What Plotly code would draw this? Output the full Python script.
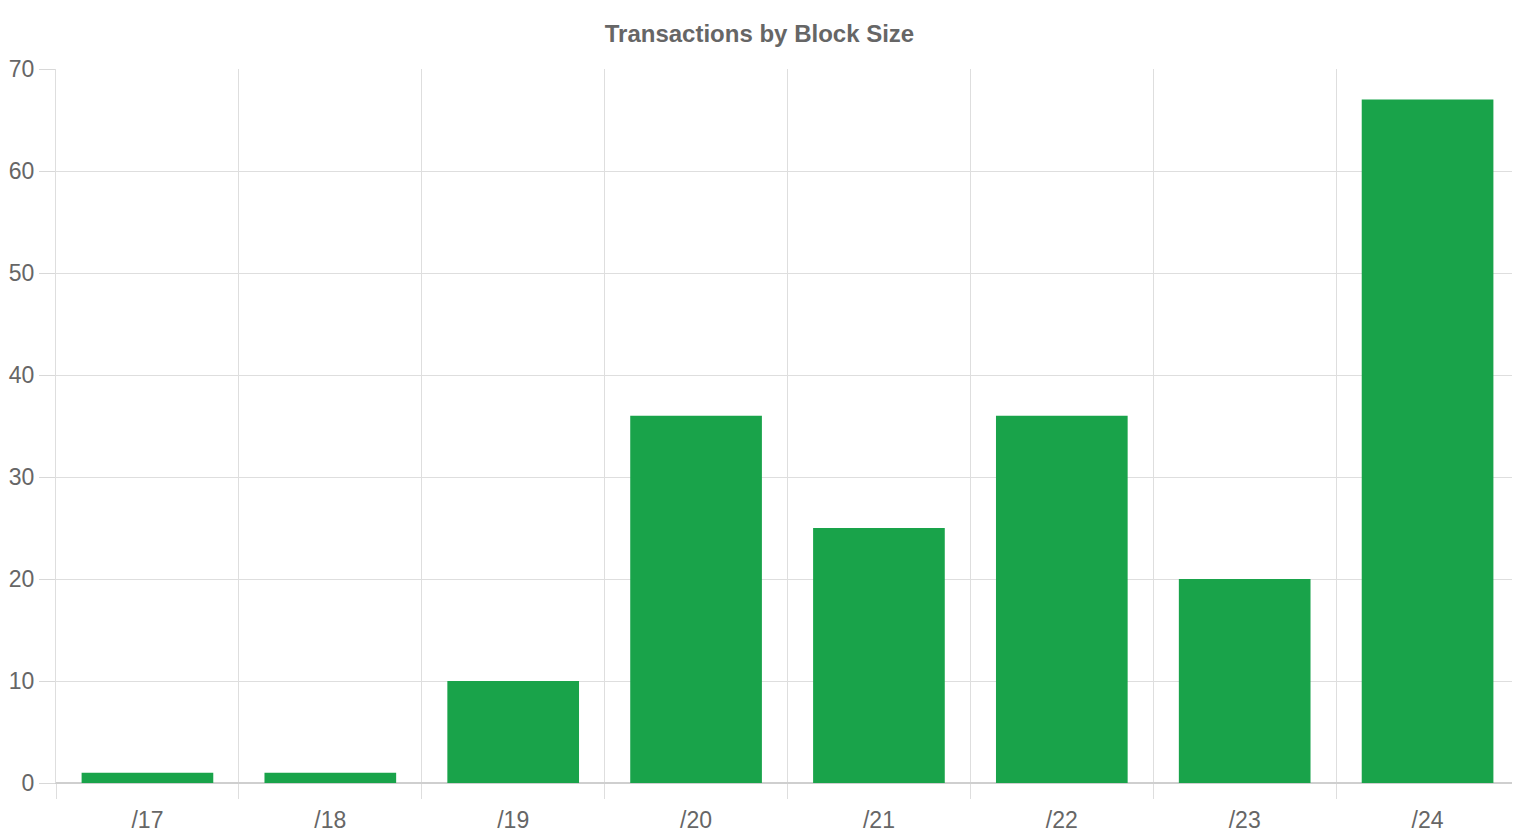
import plotly.graph_objects as go

# block sizes and transaction counts
block_sizes = ["/17", "/18", "/19", "/20", "/21", "/22", "/23", "/24"]
transactions = [1, 1, 10, 36, 25, 36, 20, 67]
y_ticks = [0, 10, 20, 30, 40, 50, 60, 70]

grid_color = "#dedede"
axis_color = "#cfcfcf"
text_color = "#666666"
font_family = "Liberation Sans, Arial, sans-serif"

fig = go.Figure(data=[go.Bar(
    x=block_sizes,
    y=transactions,
    marker=dict(color="#19a34a", line=dict(width=0)),
)])

# page body has an 8px margin, so the figure is a bit smaller than the window
fig.update_layout(
    title=dict(text="<b>Transactions by Block Size</b>", x=0.497, xanchor="center",
               y=1 - 26 / 832, yanchor="middle",
               font=dict(family=font_family, size=24, color=text_color)),
    width=1512,
    height=832,
    margin=dict(l=48, r=1, t=61, b=57),
    paper_bgcolor="white",
    plot_bgcolor="white",
    bargap=0.28,
    showlegend=False,
    font=dict(family=font_family, size=23, color=text_color),
)

fig.update_xaxes(
    type="category",
    tickson="boundaries",
    showgrid=True, gridcolor=grid_color, gridwidth=1,
    ticks="outside", ticklen=15, tickcolor=grid_color,
    ticklabelstandoff=16,
    showline=True, linecolor=axis_color,
    tickfont=dict(size=23, color=text_color),
)
fig.update_yaxes(
    range=[0, 70],
    tickvals=y_ticks,
    showgrid=True, gridcolor=grid_color, gridwidth=1,
    zeroline=True, zerolinecolor=axis_color,
    ticks="outside", ticklen=16, tickcolor="#d8d8d8",
    showline=True, linecolor=grid_color, mirror=True,
    tickfont=dict(size=23, color=text_color),
)

fig.write_html("out.html")
